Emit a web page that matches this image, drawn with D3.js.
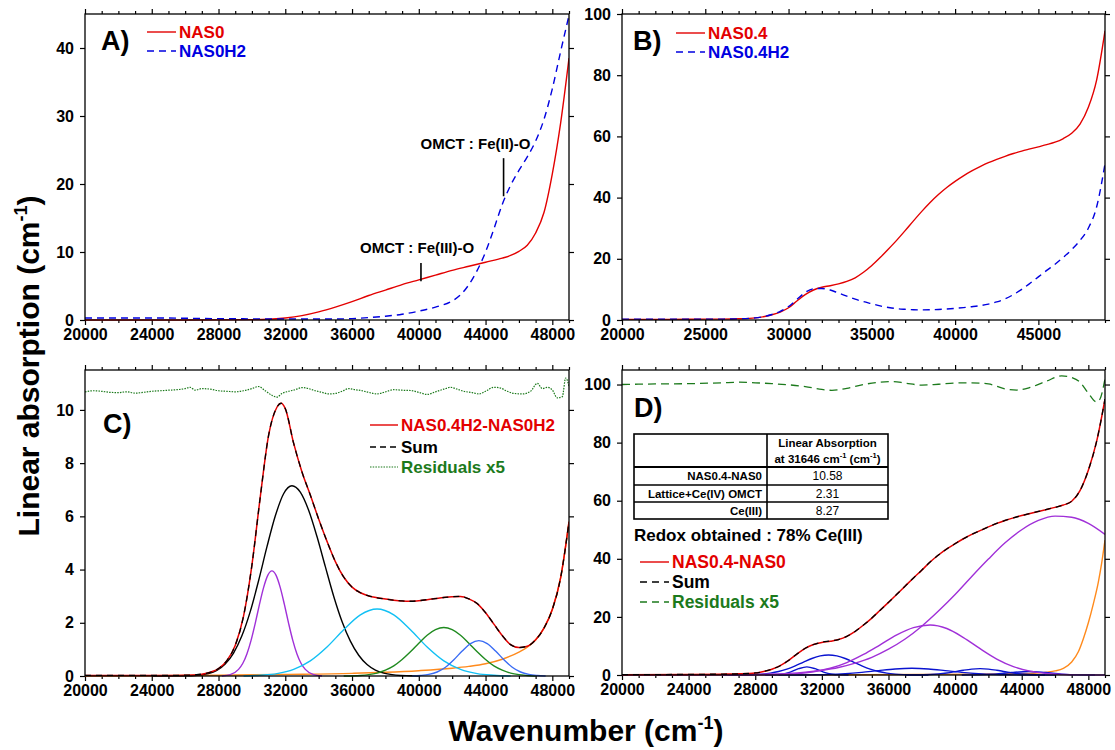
<!DOCTYPE html>
<html><head><meta charset="utf-8">
<script src="https://cdn.jsdelivr.net/npm/d3@7"></script>
<style>body{margin:0;background:#fff}svg{display:block}</style>
</head><body><svg id="c" width="1115" height="750"></svg>
<script>
// ---------- tick values ----------
const wnTicks4k = [20000,24000,28000,32000,36000,40000,44000,48000];
const wnTicks5k = [20000,25000,30000,35000,40000,45000];
const absTicksA = [0,10,20,30,40];
const absTicksB = [0,20,40,60,80,100];
const absTicksC = [0,2,4,6,8,10];
const absTicksD = [0,20,40,60,80,100];

// ---------- Panel A ----------
const nas0 = [[20000,0.0],[26000,0.0],[30000,0.05],[31000,0.1],[32000,0.3],[33000,0.65],[34000,1.2],[35000,1.9],[36000,2.7],[37000,3.6],[38000,4.4],[39000,5.2],[40000,5.9],[41000,6.6],[42000,7.3],[43000,7.9],[44000,8.5],[45000,9.1],[45500,9.5],[46000,10.1],[46500,11.0],[47000,12.8],[47500,15.8],[48000,21.5],[48500,29],[49000,38.5]];
const nas0H2 = [[20000,0.3],[24000,0.3],[28000,0.2],[32000,0.15],[35000,0.15],[36000,0.2],[37000,0.35],[38000,0.55],[39000,0.85],[40000,1.3],[41000,1.9],[42000,2.8],[42500,3.7],[43000,5.2],[43500,7.3],[44000,10.0],[44500,13.4],[45000,17.0],[45500,19.8],[46000,22.0],[46500,24.0],[47000,26.3],[47500,29.5],[48000,34.0],[48500,39.5],[49000,44.8]];
const annotA = [
  {label:"OMCT : Fe(III)-O", tx:39900, ty:9.85, lx:40130, y1:8.4, y2:5.7},
  {label:"OMCT : Fe(II)-O",  tx:43400, ty:25.2, lx:45080, y1:23.8, y2:18.2}
];

// ---------- Panel B ----------
const nas04 = [[20000,0.2],[22000,0.2],[24000,0.25],[26000,0.3],[27000,0.4],[28000,0.7],[29000,1.7],[29500,2.6],[30000,4.0],[30500,6.2],[31000,8.3],[31500,9.8],[32000,10.7],[32500,11.2],[33000,11.8],[33500,12.6],[34000,13.8],[34500,15.6],[35000,17.8],[35500,20.4],[36000,23.2],[36500,26.1],[37000,29.2],[37500,32.4],[38000,35.5],[38500,38.4],[39000,41.0],[39500,43.3],[40000,45.3],[40500,47.1],[41000,48.7],[41500,50.1],[42000,51.4],[42500,52.5],[43000,53.5],[43500,54.4],[44000,55.2],[44500,55.9],[45000,56.6],[45500,57.3],[46000,58.1],[46500,59.3],[47000,61.0],[47500,64.0],[48000,69.5],[48500,78.5],[49000,94.5]];
const nas04H2 = [[20000,0.3],[22000,0.3],[24000,0.3],[26000,0.3],[27000,0.4],[28000,0.7],[29000,1.8],[29500,2.8],[30000,4.4],[30500,6.7],[31000,9.0],[31500,10.2],[32000,10.3],[32500,9.8],[33000,8.8],[33500,7.8],[34000,6.8],[34500,6.0],[35000,5.3],[35500,4.6],[36000,4.1],[36500,3.7],[37000,3.5],[37500,3.35],[38000,3.3],[38500,3.35],[39000,3.45],[39500,3.6],[40000,3.8],[40500,4.05],[41000,4.35],[41500,4.7],[42000,5.2],[42500,5.9],[43000,6.9],[43500,8.3],[44000,10.0],[44500,12.0],[45000,14.1],[45500,16.2],[46000,18.2],[46500,20.5],[47000,23.0],[47500,26.0],[48000,30.0],[48500,37.0],[49000,51.0]];

// ---------- Panel C ----------
const totalC = [[20000,0.02],[22000,0.02],[24000,0.02],[25000,0.02],[26000,0.03],[26500,0.04],[27000,0.07],[27500,0.14],[28000,0.28],[28500,0.58],[29000,1.15],[29500,2.25],[30000,4.16],[30500,6.72],[31000,9.04],[31500,10.1],[31750,10.25],[32000,10.05],[32500,8.75],[33000,7.67],[33500,6.8],[34000,5.9],[34500,5.06],[35000,4.3],[35500,3.72],[36000,3.34],[36500,3.13],[37000,3.01],[37500,2.94],[38000,2.89],[38500,2.85],[39000,2.82],[39500,2.81],[40000,2.83],[40500,2.87],[41000,2.91],[41500,2.95],[42000,2.98],[42500,2.99],[43000,2.9],[43500,2.72],[44000,2.38],[44500,1.95],[45000,1.52],[45500,1.18],[46000,1.07],[46500,1.12],[47000,1.36],[47500,1.8],[48000,2.5],[48500,3.7],[49000,5.8]];
const sumC = [[20000,0.02],[22000,0.02],[24000,0.02],[25000,0.02],[26000,0.03],[26500,0.04],[27000,0.07],[27500,0.14],[28000,0.28],[28500,0.58],[29000,1.15],[29500,2.25],[30000,4.16],[30500,6.72],[31000,9.04],[31500,10.1],[31750,10.25],[32000,10.05],[32500,8.75],[33000,7.67],[33500,6.8],[34000,5.9],[34500,5.06],[35000,4.3],[35500,3.72],[36000,3.34],[36500,3.13],[37000,3.01],[37500,2.94],[38000,2.89],[38500,2.85],[39000,2.82],[39500,2.81],[40000,2.83],[40500,2.87],[41000,2.91],[41500,2.95],[42000,2.98],[42500,2.99],[43000,2.9],[43500,2.72],[44000,2.38],[44500,1.95],[45000,1.52],[45500,1.18],[46000,1.07],[46500,1.12],[47000,1.36],[47500,1.8],[48000,2.5],[48500,3.7],[49000,5.8]];
const purpleC = [[28200,0],[28700,0.05],[29200,0.25],[29450,0.47],[29700,0.83],[29950,1.34],[30200,1.98],[30450,2.68],[30700,3.32],[30950,3.78],[31200,3.95],[31450,3.78],[31700,3.32],[31950,2.68],[32200,1.98],[32450,1.34],[32700,0.83],[32950,0.47],[33200,0.25],[33700,0.05],[34200,0]];
const blackC = [[24000,0],[26400,0.01],[26900,0.04],[27400,0.09],[27900,0.21],[28400,0.45],[28900,0.86],[29400,1.51],[29900,2.42],[30400,3.58],[30900,4.85],[31400,6.01],[31900,6.85],[32400,7.15],[32900,6.91],[33400,6.23],[33900,5.24],[34400,4.11],[34900,3.0],[35400,2.05],[35900,1.31],[36400,0.78],[36900,0.43],[37400,0.22],[37900,0.11],[38400,0.05],[38900,0.02],[39400,0.01],[40000,0]];
const cyanC = [[29500,0],[30500,0.03],[31500,0.09],[32500,0.25],[33500,0.57],[34500,1.09],[35500,1.74],[36500,2.30],[37500,2.52],[38500,2.30],[39500,1.74],[40500,1.09],[41500,0.57],[42500,0.25],[43500,0.09],[44500,0.03],[45500,0]];
const greenC = [[35500,0],[36500,0.02],[37000,0.05],[37500,0.11],[38000,0.22],[38500,0.38],[39000,0.62],[39500,0.91],[40000,1.23],[40500,1.53],[41000,1.74],[41500,1.82],[42000,1.74],[42500,1.53],[43000,1.23],[43500,0.91],[44000,0.62],[44500,0.38],[45000,0.22],[45500,0.11],[46000,0.05],[46500,0.02],[47000,0]];
const blueC = [[39600,0],[40100,0.02],[40600,0.06],[41100,0.15],[41600,0.33],[42100,0.61],[42600,0.94],[43100,1.22],[43600,1.33],[44100,1.22],[44600,0.94],[45100,0.61],[45600,0.33],[46100,0.15],[46600,0.06],[47100,0.02],[47600,0]];
const orangeC = [[20000,0.0],[24000,0.01],[28000,0.03],[32000,0.06],[36000,0.1],[38000,0.14],[40000,0.2],[42000,0.29],[43000,0.36],[44000,0.46],[45000,0.63],[46000,0.9],[46500,1.08],[47000,1.35],[47500,1.8],[48000,2.5],[48500,3.7],[49000,5.8]];
const residC = [[20000,10.68],[20500,10.72],[21000,10.7],[21500,10.66],[22000,10.65],[22500,10.68],[23000,10.63],[23500,10.66],[24000,10.7],[24500,10.72],[25000,10.74],[25500,10.76],[26000,10.8],[26300,10.85],[26600,10.74],[27000,10.8],[27500,10.78],[28000,10.72],[28500,10.7],[29000,10.68],[29500,10.72],[30000,10.8],[30400,10.88],[30800,10.72],[31200,10.55],[31500,10.48],[31800,10.62],[32200,10.7],[32600,10.76],[33000,10.84],[33400,10.8],[33800,10.72],[34200,10.66],[34600,10.6],[35000,10.62],[35400,10.7],[35800,10.8],[36200,10.76],[36600,10.72],[37000,10.66],[37500,10.6],[38000,10.68],[38500,10.76],[39000,10.74],[39500,10.73],[40000,10.66],[40500,10.58],[41000,10.68],[41500,10.78],[41900,10.85],[42300,10.78],[42700,10.7],[43200,10.65],[43600,10.6],[44000,10.7],[44500,10.85],[44900,10.82],[45300,10.7],[45700,10.62],[46200,10.6],[46700,10.7],[47100,11.0],[47400,10.8],[47700,10.85],[48000,10.75],[48300,10.45],[48600,10.5],[48800,11.2],[49000,10.9]];

// ---------- Panel D ----------
const totalD = [[20000,0.1],[24000,0.2],[26000,0.3],[27000,0.4],[28000,0.7],[28500,1.2],[29000,2.0],[29500,3.2],[30000,5.0],[30500,7.2],[31000,9.2],[31500,10.5],[32000,11.2],[32500,11.6],[33000,12.2],[33500,13.3],[34000,15.0],[34500,17.2],[35000,19.6],[35500,22.3],[36000,25.0],[36500,27.8],[37000,30.6],[37500,33.4],[38000,36.1],[38500,38.9],[39000,41.3],[39500,43.4],[40000,45.2],[40500,46.9],[41000,48.4],[41500,49.7],[42000,51.0],[42500,52.2],[43000,53.2],[43500,54.1],[44000,54.9],[44500,55.6],[45000,56.3],[45500,57.0],[46000,57.7],[46500,58.5],[47000,59.8],[47500,63.5],[48000,70.5],[48500,80.5],[49000,95]];
const sumD = [[20000,0.1],[24000,0.2],[26000,0.3],[27000,0.4],[28000,0.7],[28500,1.2],[29000,2.0],[29500,3.2],[30000,5.0],[30500,7.2],[31000,9.2],[31500,10.5],[32000,11.3],[32500,11.7],[33000,12.2],[33500,13.3],[34000,15.0],[34500,17.2],[35000,19.6],[35500,22.3],[36000,25.0],[36500,27.8],[37000,30.6],[37500,33.4],[38000,36.1],[38500,38.9],[39000,41.3],[39500,43.4],[40000,45.2],[40500,46.9],[41000,48.4],[41500,49.7],[42000,51.0],[42500,52.2],[43000,53.2],[43500,54.1],[44000,54.9],[44500,55.6],[45000,56.3],[45500,57.0],[46000,57.7],[46500,58.5],[47000,59.8],[47500,63.5],[48000,70.5],[48500,80.5],[49000,95]];
const purpleBigD = [[20000,0],[24000,0.01],[26000,0.04],[27000,0.09],[28000,0.18],[29000,0.33],[30000,0.57],[31000,0.99],[32000,1.65],[33000,2.6],[34000,4.1],[35000,6.1],[36000,8.9],[37000,12.4],[38000,16.8],[39000,22.0],[40000,27.7],[41000,33.9],[42000,39.9],[43000,45.5],[44000,50.0],[45000,53.2],[46000,54.7],[47000,54.3],[48000,52.2],[49000,48.4]];
const purpleSmallD = [[26000,0],[27500,0.02],[28500,0.07],[29500,0.19],[30500,0.49],[31500,1.13],[32500,2.33],[33500,4.29],[34500,7.07],[35500,10.4],[36500,13.8],[37500,16.3],[38500,17.2],[39500,16.0],[40500,12.9],[41500,9.06],[42500,5.5],[43500,2.9],[44500,1.33],[45500,0.53],[46500,0.18],[47500,0.05],[48500,0.01],[49000,0]];
const blue1D = [[26400,0],[26900,0.02],[27400,0.05],[27900,0.13],[28400,0.30],[28900,0.63],[29400,1.19],[29900,2.04],[30400,3.16],[30900,4.45],[31400,5.68],[31900,6.57],[32400,6.9],[32900,6.57],[33400,5.68],[33900,4.45],[34400,3.16],[34900,2.04],[35400,1.19],[35900,0.63],[36400,0.30],[36900,0.13],[37400,0.05],[37900,0.02],[38400,0]];
const blue2D = [[28600,0],[29100,0.05],[29600,0.28],[30100,1.01],[30600,2.17],[31100,2.8],[31600,2.17],[32100,1.01],[32600,0.28],[33100,0.05],[33600,0]];
const blue3D = [[29400,0],[30400,0.007],[31400,0.06],[32400,0.17],[33400,0.44],[34400,0.91],[35400,1.52],[36400,2.07],[37400,2.3],[38400,2.07],[39400,1.52],[40400,0.91],[41400,0.44],[42400,0.17],[43400,0.06],[44400,0.007],[45400,0]];
const blue4D = [[37000,0],[37500,0.01],[38000,0.06],[38500,0.15],[39000,0.35],[39500,0.67],[40000,1.13],[40500,1.64],[41000,2.04],[41500,2.2],[42000,2.04],[42500,1.64],[43000,1.13],[43500,0.67],[44000,0.35],[44500,0.15],[45000,0.06],[45500,0.01],[46000,0]];
const blue5D = [[40400,0],[41400,0.05],[42400,0.3],[43400,0.85],[44400,1.2],[45400,0.85],[46400,0.3],[47400,0.05],[48400,0]];
const orangeD = [[20000,0],[26000,0.02],[30000,0.05],[34000,0.1],[38000,0.2],[41000,0.3],[43000,0.42],[44000,0.5],[44700,0.6],[45500,1.0],[46000,1.4],[46500,2.3],[47000,4.5],[47400,8.0],[47700,12.5],[48000,18],[48300,24.5],[48600,32],[48800,38.5],[49000,46.4]];
const residD = [[20000,100],[22000,100.2],[24000,100.3],[26000,100.6],[27000,100.8],[28000,100.6],[29000,100.3],[30000,99.9],[31000,99.3],[32000,98.3],[32600,98.0],[33500,98.7],[34500,100],[35500,100.8],[36300,101],[37000,100.5],[38000,99.8],[39000,100.1],[40000,100.5],[41000,100.6],[42000,100.2],[43000,98.5],[43700,98.1],[44500,99],[45500,101.2],[46400,103],[47000,102.4],[47500,100.8],[48000,97],[48500,94],[48700,95],[49000,102]];
const tableHeader = ["Linear Absorption", "at 31646 cm", "-1", " (cm", "-1", ")"];
const tableRows = [["NAS0.4-NAS0","10.58"],["Lattice+Ce(IV) OMCT","2.31"],["Ce(III)","8.27"]];
const redoxText = "Redox obtained : 78% Ce(III)";

// ---------- drawing ----------
const F = "'Liberation Sans', Arial, Helvetica, sans-serif";
const RED = "#e30000", BLUE = "#0000e0", DGREEN = "#1c7a1c";
const svg = d3.select("#c");

function makePanel(p) {
  const x = d3.scaleLinear().domain(p.xd).range([p.l, p.r]);
  const y = d3.scaleLinear().domain(p.yd).range([p.b, p.t]);
  const g = svg.append("g");
  const minor = d3.range(p.xd[0], p.xd[1] + 1, 1000).filter(v => !p.xt.includes(v));
  const st = s => {
    s.select(".domain").remove();
    s.selectAll("line").attr("stroke", "#000").attr("stroke-width", 1.2);
    s.selectAll("text").attr("font-family", F).attr("font-size", 16).attr("font-weight", "bold").attr("fill", "#000");
  };
  g.append("g").attr("transform", `translate(0,${p.b})`).call(d3.axisBottom(x).tickValues(minor).tickSize(3).tickFormat("")).call(st);
  g.append("g").attr("transform", `translate(0,${p.b})`).call(d3.axisBottom(x).tickValues(p.xt).tickSize(5).tickPadding(4).tickFormat(d3.format("d"))).call(st);
  g.append("g").attr("transform", `translate(0,${p.t})`).call(d3.axisTop(x).tickValues(minor).tickSize(3).tickFormat("")).call(st);
  g.append("g").attr("transform", `translate(0,${p.t})`).call(d3.axisTop(x).tickValues(p.xt).tickSize(5).tickFormat("")).call(st);
  g.append("g").attr("transform", `translate(${p.l},0)`).call(d3.axisLeft(y).tickValues(p.yt).tickSize(5).tickPadding(6).tickFormat(d3.format("d"))).call(st);
  g.append("g").attr("transform", `translate(${p.r},0)`).call(d3.axisRight(y).tickValues(p.yt).tickSize(5).tickFormat("")).call(st);
  const id = "clip" + p.name;
  svg.append("clipPath").attr("id", id).append("rect").attr("x", p.l).attr("y", p.t - 1).attr("width", p.r - p.l).attr("height", p.b - p.t + 2);
  const plot = g.append("g").attr("clip-path", `url(#${id})`);
  g.append("rect").attr("x", p.l).attr("y", p.t).attr("width", p.r - p.l).attr("height", p.b - p.t)
    .attr("fill", "none").attr("stroke", "#000").attr("stroke-width", 1.3);
  const line = d3.line().x(d => x(d[0])).y(d => y(d[1])).curve(d3.curveMonotoneX);
  const over = g.append("g");
  return {x, y, g, plot, line, over, p};
}
function series(P, data, color, w, dash) {
  P.plot.append("path").datum(data).attr("d", P.line).attr("fill", "none")
    .attr("stroke", color).attr("stroke-width", w).attr("stroke-dasharray", dash || null);
}
function legend(P, x0, x1, yy, color, dash, w, label, tcolor, fs) {
  P.over.append("line").attr("x1", x0).attr("x2", x1).attr("y1", yy).attr("y2", yy)
    .attr("stroke", color).attr("stroke-width", w).attr("stroke-dasharray", dash || null);
  P.over.append("text").attr("x", x1 + 3).attr("y", yy + fs * 0.36).text(label)
    .attr("font-family", F).attr("font-size", fs).attr("font-weight", "bold").attr("fill", tcolor);
}
function plabel(P, txt, x, y) {
  P.over.append("text").attr("x", x).attr("y", y).text(txt).attr("font-family", F)
    .attr("font-size", 27).attr("font-weight", "bold").attr("fill", "#000");
}

// Panel A
const A = makePanel({name:"A", l:85, r:569, t:14, b:320, xd:[20000,49000], yd:[0,45], xt:wnTicks4k, yt:absTicksA});
series(A, nas0, RED, 1.4);
series(A, nas0H2, BLUE, 1.4, "7,5");
annotA.forEach(a => {
  A.over.append("text").attr("x", A.x(a.tx)).attr("y", A.y(a.ty)).attr("text-anchor", "middle").text(a.label)
    .attr("font-family", F).attr("font-size", 15).attr("font-weight", "bold").attr("fill", "#000");
  A.over.append("line").attr("x1", A.x(a.lx)).attr("x2", A.x(a.lx)).attr("y1", A.y(a.y1)).attr("y2", A.y(a.y2))
    .attr("stroke", "#000").attr("stroke-width", 1.6);
});
plabel(A, "A)", 101, 50);
legend(A, 147, 176, 32, RED, null, 1.4, "NAS0", RED, 17);
legend(A, 147, 176, 51, BLUE, "7,5", 1.4, "NAS0H2", BLUE, 17);

// Panel B
const B = makePanel({name:"B", l:622, r:1105, t:14, b:320, xd:[20000,49000], yd:[0,100], xt:wnTicks5k, yt:absTicksB});
series(B, nas04, RED, 1.4);
series(B, nas04H2, BLUE, 1.4, "7,5");
plabel(B, "B)", 633, 50);
legend(B, 676, 705, 33, RED, null, 1.4, "NAS0.4", RED, 17);
legend(B, 676, 705, 52, BLUE, "7,5", 1.4, "NAS0.4H2", BLUE, 17);

// Panel C
const C = makePanel({name:"C", l:85, r:569, t:370, b:676, xd:[20000,49000], yd:[0,11.5], xt:wnTicks4k, yt:absTicksC});
series(C, orangeC, "#ff8a1c", 1.4);
series(C, purpleC, "#a030d8", 1.4);
series(C, blackC, "#000", 1.4);
series(C, cyanC, "#12c0f4", 1.4);
series(C, greenC, "#1f8a1f", 1.4);
series(C, blueC, "#3a6cf4", 1.4);
series(C, residC, DGREEN, 1.2, "1.5,1.2");
series(C, totalC, RED, 1.5);
series(C, sumC, "#000", 1.3, "6,5");
plabel(C, "C)", 103, 433);
legend(C, 370, 398, 425, RED, null, 1.4, "NAS0.4H2-NAS0H2", RED, 17);
legend(C, 370, 398, 447, "#000", "6,4", 1.3, "Sum", "#000", 17);
legend(C, 370, 398, 467, DGREEN, "1.5,1.2", 1.2, "Residuals x5", DGREEN, 17);

// Panel D
const D = makePanel({name:"D", l:622, r:1105, t:370, b:675, xd:[20000,49000], yd:[0,105], xt:wnTicks4k, yt:absTicksD});
series(D, orangeD, "#ff8a1c", 1.4);
[blue1D, blue2D, blue3D, blue4D, blue5D].forEach(s => series(D, s, "#0a14d0", 1.4));
series(D, purpleSmallD, "#a030d8", 1.4);
series(D, purpleBigD, "#a030d8", 1.4);
series(D, totalD, RED, 1.5);
series(D, sumD, "#000", 1.3, "6,5");
series(D, residD, DGREEN, 1.3, "8,5");
plabel(D, "D)", 634, 417);
// table
(function () {
  const tx0 = 634, tx1 = 888, txm = 767;
  const ys = [434, 467, 485, 502, 519];
  const tg = D.over.append("g");
  tg.append("rect").attr("x", tx0).attr("y", ys[0]).attr("width", tx1 - tx0).attr("height", ys[4] - ys[0])
    .attr("fill", "#fff").attr("stroke", "#000").attr("stroke-width", 1.6);
  tg.append("line").attr("x1", txm).attr("x2", txm).attr("y1", ys[0]).attr("y2", ys[4]).attr("stroke", "#000").attr("stroke-width", 1.6);
  [1, 2, 3].forEach(i => tg.append("line").attr("x1", tx0).attr("x2", tx1).attr("y1", ys[i]).attr("y2", ys[i]).attr("stroke", "#000").attr("stroke-width", i === 1 ? 2 : 1.3));
  const cx = (txm + tx1) / 2;
  tg.append("text").attr("x", cx).attr("y", 447).attr("text-anchor", "middle").text(tableHeader[0])
    .attr("font-family", F).attr("font-size", 11.5).attr("font-weight", "bold");
  const h2 = tg.append("text").attr("x", cx).attr("y", 463).attr("text-anchor", "middle")
    .attr("font-family", F).attr("font-size", 11.5).attr("font-weight", "bold");
  h2.append("tspan").text(tableHeader[1]);
  h2.append("tspan").attr("dy", -5).attr("font-size", 7.5).text(tableHeader[2]);
  h2.append("tspan").attr("dy", 5).text(tableHeader[3]);
  h2.append("tspan").attr("dy", -5).attr("font-size", 7.5).text(tableHeader[4]);
  h2.append("tspan").attr("dy", 5).text(tableHeader[5]);
  tableRows.forEach((r, i) => {
    const yc = (ys[i + 1] + ys[i + 2]) / 2 + 4.2;
    tg.append("text").attr("x", txm - 5).attr("y", yc).attr("text-anchor", "end").text(r[0])
      .attr("font-family", F).attr("font-size", 11.5).attr("font-weight", "bold");
    tg.append("text").attr("x", cx).attr("y", yc).attr("text-anchor", "middle").text(r[1])
      .attr("font-family", F).attr("font-size", 12);
  });
  D.over.append("text").attr("x", 634).attr("y", 541).text(redoxText)
    .attr("font-family", F).attr("font-size", 17).attr("font-weight", "bold");
})();
legend(D, 640, 669, 562, RED, null, 1.4, "NAS0.4-NAS0", RED, 17.5);
legend(D, 640, 669, 582, "#000", "7,5", 1.3, "Sum", "#000", 17.5);
legend(D, 640, 669, 602, DGREEN, "7,5", 1.3, "Residuals x5", DGREEN, 17.5);

// axis titles
const yt = svg.append("text").attr("transform", "translate(39,366) rotate(-90)").attr("text-anchor", "middle")
  .attr("font-family", F).attr("font-size", 30).attr("font-weight", "bold").attr("fill", "#000");
yt.append("tspan").text("Linear absorption (cm");
yt.append("tspan").attr("dy", -12).attr("font-size", 18).text("-1");
yt.append("tspan").attr("dy", 12).text(")");
const xt = svg.append("text").attr("x", 586).attr("y", 741).attr("text-anchor", "middle")
  .attr("font-family", F).attr("font-size", 30).attr("font-weight", "bold").attr("fill", "#000");
xt.append("tspan").text("Wavenumber (cm");
xt.append("tspan").attr("dy", -12).attr("font-size", 18).text("-1");
xt.append("tspan").attr("dy", 12).text(")");
</script></body></html>
